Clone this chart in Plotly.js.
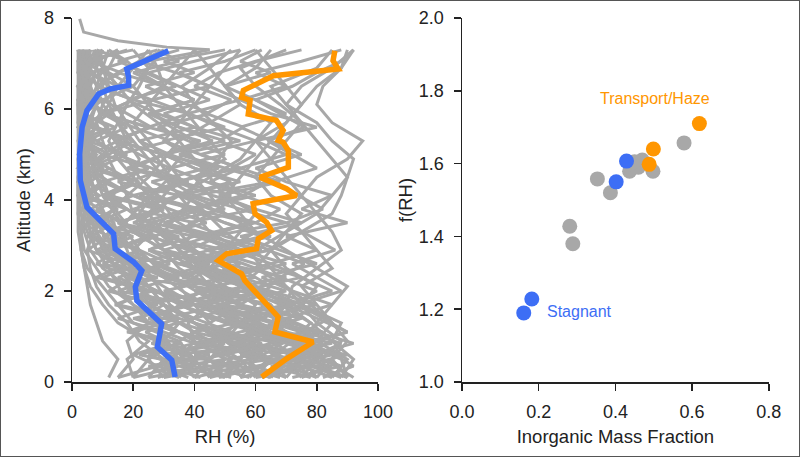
<!DOCTYPE html>
<html>
<head>
<meta charset="utf-8">
<script src="https://cdn.plot.ly/plotly-3.0.1.min.js"></script>
<style>
  body { margin: 0; background: #fff; }
  #wrap { position: relative; width: 800px; height: 457px; }
  #frame { position: absolute; left: 0; top: 0; width: 800px; height: 457px;
           box-sizing: border-box; border: 1px solid #555; pointer-events: none; }
</style>
</head>
<body>
<div id="wrap">
  <div id="plot" style="width:800px;height:457px;"></div>
  <div id="frame"></div>
</div>
<script>
// altitude levels (km) for the first group of gray profiles
let altGrid = [0.1, 0.5, 0.9, 1.3, 1.7, 2.1, 2.5, 2.9, 3.3, 3.7, 4.1, 4.5, 4.9, 5.3, 5.7, 6.1, 6.5, 6.9, 7.3];

// individual RH profiles (%), one row per flight
let grayRH = [
  [30, 25, 35, 20, 15, 10, 5, 3, 2, 2, 3, 2, 2, 3, 4, 3, 2, 3, 2],
  [45, 50, 40, 30, 20, 12, 8, 4, 3, 2, 2, 3, 4, 5, 3, 2, 3, 4, 5],
  [60, 55, 45, 35, 25, 18, 10, 6, 4, 3, 2, 2, 3, 2, 3, 5, 6, 8, 10],
  [20, 18, 25, 15, 10, 6, 4, 3, 3, 4, 6, 5, 4, 3, 2, 2, 2, 3, 4],
  [70, 65, 50, 40, 30, 20, 15, 10, 8, 6, 5, 4, 3, 3, 2, 2, 3, 4, 6],
  [35, 40, 30, 28, 25, 22, 18, 12, 8, 5, 4, 3, 3, 4, 5, 8, 10, 12, 15],
  [55, 60, 70, 50, 35, 25, 15, 8, 5, 3, 2, 2, 2, 3, 3, 4, 5, 6, 8],
  [80, 75, 65, 55, 40, 30, 20, 12, 6, 4, 3, 3, 4, 6, 8, 10, 15, 20, 25],
  [25, 30, 22, 18, 12, 8, 6, 5, 7, 10, 8, 6, 5, 4, 4, 3, 3, 3, 3],
  [50, 45, 55, 40, 30, 25, 20, 15, 12, 10, 8, 6, 5, 5, 6, 8, 6, 5, 4],
  [65, 70, 60, 55, 50, 45, 40, 35, 30, 35, 40, 30, 25, 20, 15, 10, 8, 6, 5],
  [40, 45, 50, 45, 40, 35, 45, 40, 30, 25, 30, 35, 30, 25, 20, 25, 30, 35, 40],
  [75, 80, 70, 60, 50, 55, 45, 35, 40, 30, 25, 20, 22, 18, 15, 12, 10, 8, 7],
  [30, 35, 40, 38, 45, 50, 40, 30, 25, 20, 18, 25, 30, 35, 28, 20, 15, 10, 8],
  [85, 80, 75, 65, 55, 45, 50, 40, 35, 45, 55, 50, 40, 30, 35, 40, 45, 50, 55],
  [50, 55, 60, 65, 55, 45, 35, 30, 20, 25, 35, 45, 40, 35, 45, 55, 50, 45, 40],
  [60, 65, 55, 60, 70, 60, 50, 55, 45, 40, 35, 30, 35, 40, 30, 25, 20, 25, 30],
  [20, 25, 30, 35, 30, 25, 20, 18, 15, 20, 25, 20, 15, 12, 15, 18, 22, 25, 20],
  [45, 40, 35, 45, 55, 65, 55, 50, 60, 50, 45, 40, 50, 45, 40, 35, 30, 28, 25],
  [70, 75, 80, 70, 65, 55, 45, 50, 55, 60, 50, 45, 55, 60, 65, 55, 50, 60, 65],
  [90, 85, 88, 80, 75, 70, 65, 60, 70, 80, 85, 90, 85, 80, 75, 70, 75, 85, 92],
  [80, 85, 90, 85, 80, 75, 85, 80, 75, 70, 75, 80, 90, 95, 85, 80, 82, 88, 90],
  [75, 70, 80, 85, 78, 70, 60, 65, 75, 85, 88, 90, 92, 85, 80, 70, 65, 80, 85],
  [65, 70, 75, 80, 85, 90, 80, 70, 60, 55, 50, 55, 60, 65, 70, 75, 70, 65, 60],
  [88, 92, 85, 78, 70, 72, 80, 88, 85, 80, 75, 70, 65, 60, 70, 75, 80, 88, 92],
  [55, 60, 65, 70, 75, 80, 70, 65, 70, 75, 65, 60, 65, 70, 75, 68, 60, 55, 70],
  [85, 90, 80, 70, 55, 40, 25, 15, 10, 6, 4, 3, 2, 2, 2, 3, 3, 4, 4],
  [78, 72, 85, 88, 75, 60, 45, 30, 20, 15, 12, 10, 8, 6, 5, 4, 4, 5, 6],
  [40, 35, 30, 28, 35, 45, 30, 20, 15, 12, 18, 15, 12, 10, 8, 12, 15, 10, 8],
  [90, 88, 75, 65, 70, 60, 50, 40, 30, 20, 12, 8, 6, 5, 4, 6, 8, 10, 12],
  [15, 20, 18, 25, 20, 15, 12, 8, 6, 5, 4, 4, 3, 3, 3, 2, 2, 2, 2],
  [62, 58, 50, 55, 48, 38, 28, 22, 18, 14, 10, 8, 7, 6, 5, 5, 4, 4, 3],
  [35, 30, 45, 55, 60, 50, 42, 35, 28, 22, 26, 32, 28, 22, 18, 14, 12, 10, 9],
  [58, 64, 72, 78, 68, 55, 62, 58, 50, 44, 38, 42, 48, 52, 46, 40, 36, 45, 52],
  [12, 15, 10, 8, 6, 5, 4, 3, 3, 2, 2, 2, 3, 3, 4, 4, 5, 5, 6],
  [45, 52, 48, 40, 32, 28, 24, 20, 26, 32, 28, 22, 18, 14, 10, 8, 6, 5, 5]
];

// second group of profiles, sampled on a finer altitude grid
let altGrid2 = [0.1, 0.35, 0.6, 0.85, 1.1, 1.4, 1.7, 2.0, 2.3, 2.6, 2.9, 3.2, 3.5, 3.8, 4.1, 4.4, 4.7, 5.0, 5.3, 5.6, 5.9, 6.2, 6.5, 6.8, 7.05, 7.3];
let grayRH2 = [
  [40, 55, 35, 60, 45, 30, 50, 25, 15, 30, 10, 20, 5, 15, 3, 10, 2, 8, 3, 12, 4, 2, 6, 3, 2, 4],
  [70, 60, 80, 55, 65, 45, 35, 50, 20, 30, 12, 25, 8, 18, 4, 6, 3, 12, 20, 8, 3, 5, 2, 10, 4, 3],
  [25, 45, 30, 50, 35, 20, 40, 15, 28, 10, 22, 6, 14, 3, 9, 2, 5, 3, 7, 2, 4, 3, 6, 2, 3, 2],
  [85, 75, 90, 70, 80, 60, 40, 55, 30, 45, 25, 35, 15, 28, 10, 20, 6, 12, 4, 8, 3, 6, 2, 5, 8, 15],
  [60, 80, 65, 85, 70, 50, 65, 45, 55, 35, 50, 30, 40, 20, 35, 15, 25, 10, 18, 6, 12, 4, 9, 3, 6, 10],
  [50, 35, 60, 40, 55, 75, 55, 40, 60, 35, 25, 40, 20, 30, 12, 22, 8, 18, 5, 14, 3, 10, 2, 7, 3, 20],
  [35, 25, 45, 30, 20, 35, 15, 25, 8, 18, 5, 12, 3, 9, 2, 6, 12, 4, 2, 5, 3, 8, 2, 4, 3, 6],
  [75, 85, 65, 78, 60, 70, 50, 62, 45, 55, 38, 48, 30, 42, 25, 38, 20, 30, 15, 25, 10, 20, 8, 15, 25, 45],
  [90, 80, 88, 72, 82, 66, 76, 58, 70, 50, 62, 45, 58, 40, 52, 35, 48, 30, 42, 25, 38, 20, 30, 15, 22, 35],
  [30, 50, 40, 60, 50, 35, 25, 45, 30, 20, 40, 25, 15, 30, 20, 10, 25, 15, 8, 18, 10, 5, 12, 6, 3, 2],
  [65, 50, 75, 55, 40, 60, 45, 30, 50, 35, 60, 45, 70, 55, 40, 65, 50, 35, 55, 40, 30, 45, 35, 25, 40, 55],
  [55, 70, 60, 45, 65, 50, 70, 55, 75, 60, 45, 65, 50, 40, 60, 45, 55, 70, 60, 80, 65, 55, 70, 60, 75, 88],
  [80, 70, 85, 75, 90, 80, 70, 85, 75, 65, 80, 70, 90, 75, 85, 70, 60, 75, 65, 55, 70, 60, 50, 65, 55, 62],
  [45, 60, 50, 65, 75, 60, 80, 65, 50, 70, 55, 40, 60, 45, 35, 55, 40, 30, 50, 35, 25, 40, 30, 20, 35, 28],
  [20, 35, 25, 40, 30, 15, 28, 12, 20, 8, 15, 5, 10, 3, 7, 2, 5, 2, 4, 2, 3, 2, 3, 2, 2, 3],
  [72, 88, 78, 92, 80, 70, 85, 72, 62, 80, 68, 55, 75, 60, 48, 68, 55, 42, 60, 48, 38, 55, 45, 35, 50, 60],
  [38, 28, 50, 40, 62, 48, 35, 52, 40, 28, 45, 32, 22, 38, 28, 18, 32, 22, 14, 26, 18, 10, 20, 12, 8, 15],
  [88, 78, 70, 82, 68, 58, 72, 60, 48, 65, 52, 42, 58, 46, 36, 52, 40, 30, 46, 35, 26, 40, 30, 22, 18, 12],
  [15, 28, 20, 32, 24, 40, 30, 18, 35, 22, 12, 28, 16, 8, 20, 12, 6, 15, 8, 4, 10, 5, 3, 6, 3, 4],
  [58, 45, 68, 52, 78, 62, 48, 70, 55, 42, 65, 50, 38, 60, 46, 34, 55, 42, 30, 50, 38, 26, 45, 34, 22, 30],
  [62, 75, 55, 68, 48, 60, 42, 55, 36, 50, 30, 45, 26, 40, 22, 35, 18, 30, 14, 25, 10, 20, 8, 16, 6, 10],
  [78, 65, 82, 70, 58, 75, 62, 50, 68, 56, 44, 62, 50, 38, 56, 44, 32, 50, 38, 28, 45, 34, 24, 40, 30, 50],
  [28, 40, 22, 36, 18, 30, 14, 26, 10, 22, 8, 18, 6, 14, 5, 12, 4, 10, 3, 8, 3, 6, 2, 5, 2, 3],
  [92, 86, 80, 88, 76, 84, 72, 80, 68, 76, 64, 72, 60, 68, 56, 64, 52, 60, 48, 56, 44, 52, 40, 48, 60, 75],
  [48, 62, 72, 58, 70, 55, 42, 62, 48, 36, 56, 42, 30, 50, 38, 26, 44, 32, 22, 40, 28, 18, 34, 24, 15, 28],
  [68, 55, 48, 62, 52, 40, 56, 44, 32, 50, 38, 26, 44, 32, 20, 38, 26, 15, 32, 20, 10, 26, 15, 6, 18, 8],
  [82, 92, 86, 78, 90, 82, 74, 88, 80, 72, 86, 78, 70, 82, 74, 66, 80, 72, 64, 76, 68, 60, 72, 80, 88, 92],
  [42, 30, 38, 26, 34, 22, 30, 18, 26, 14, 22, 10, 18, 6, 14, 4, 10, 3, 7, 2, 5, 2, 4, 2, 3, 2],
  [64, 72, 84, 74, 62, 52, 44, 36, 30, 24, 20, 16, 12, 10, 8, 6, 5, 4, 3, 3, 2, 2, 3, 4, 5, 8],
  [52, 40, 30, 45, 35, 25, 38, 28, 18, 32, 22, 14, 26, 18, 10, 20, 12, 6, 15, 8, 4, 10, 5, 3, 6, 18]
];

// one profile that goes above the rest
let highRH = [45, 31, 15, 3.8, 2.5];
let highAlt = [7.3, 7.36, 7.5, 7.69, 7.98];

// stagnant mean profile
let blueRH = [33.7, 32.6, 27.9, 29.3, 21.2, 20.7, 22.8, 20.1, 14.1, 13.6, 9.2, 4.9, 2.7, 2.5, 3.3, 4.9, 8.7, 12.5, 18.5, 18.5, 17.9, 23.4, 31.5];
let blueAlt = [0.11, 0.48, 0.77, 1.28, 1.79, 2.09, 2.45, 2.64, 2.93, 3.26, 3.55, 3.84, 4.43, 5.01, 5.6, 5.97, 6.33, 6.44, 6.52, 6.7, 6.88, 7.03, 7.28];

// transport/haze mean profile
let orangeRH = [62, 70.1, 78.8, 66.3, 67.4, 63.6, 56.5, 55.4, 47.8, 50.5, 60.3, 60.9, 65.2, 63.6, 59.8, 59.2, 73.4, 70.1, 65.8, 61.4, 70.7, 70.7, 69, 67.4, 69, 66.8, 57.6, 58.2, 55.4, 56, 65.8, 87, 85.3, 85.9];
let orangeAlt = [0.11, 0.51, 0.88, 1.1, 1.43, 1.72, 2.23, 2.38, 2.67, 2.82, 2.93, 3.15, 3.33, 3.51, 3.7, 3.92, 4.1, 4.25, 4.36, 4.5, 4.72, 5.09, 5.27, 5.31, 5.53, 5.75, 5.89, 6.19, 6.26, 6.41, 6.73, 6.88, 7.06, 7.28];

// f(RH) vs inorganic mass fraction
let grayX = [0.281, 0.289, 0.353, 0.387, 0.437, 0.44, 0.46, 0.47, 0.45, 0.498, 0.579];
let grayY = [1.428, 1.38, 1.558, 1.52, 1.579, 1.6, 1.59, 1.61, 1.605, 1.579, 1.657];
let blueX = [0.161, 0.182, 0.402, 0.429];
let blueY = [1.19, 1.228, 1.55, 1.607];
let orangeX = [0.488, 0.499, 0.619];
let orangeY = [1.598, 1.64, 1.71];

let GRAY = 'rgb(168,168,168)';
let BLUE = 'rgb(61,110,245)';
let ORANGE = 'rgb(255,150,0)';

let data = [];
function grayLine(rh, alt) {
  data.push({x: rh, y: alt, mode: 'lines', type: 'scatter',
    line: {color: GRAY, width: 3}, xaxis: 'x', yaxis: 'y'});
}
grayRH.forEach(function (rh) { grayLine(rh, altGrid); });
grayRH2.forEach(function (rh) { grayLine(rh, altGrid2); });
grayLine(highRH, highAlt);

data.push({x: blueRH, y: blueAlt, mode: 'lines', type: 'scatter',
  line: {color: BLUE, width: 5.5}, xaxis: 'x', yaxis: 'y'});
data.push({x: orangeRH, y: orangeAlt, mode: 'lines', type: 'scatter',
  line: {color: ORANGE, width: 5.5}, xaxis: 'x', yaxis: 'y'});

data.push({x: grayX, y: grayY, mode: 'markers', type: 'scatter',
  marker: {color: GRAY, size: 15}, xaxis: 'x2', yaxis: 'y2'});
data.push({x: blueX, y: blueY, mode: 'markers', type: 'scatter',
  marker: {color: BLUE, size: 15}, xaxis: 'x2', yaxis: 'y2'});
data.push({x: orangeX, y: orangeY, mode: 'markers', type: 'scatter',
  marker: {color: ORANGE, size: 15}, xaxis: 'x2', yaxis: 'y2'});

let axisStyle = {
  showline: true, linecolor: '#222', linewidth: 1.5,
  ticks: 'outside', ticklen: 7, tickwidth: 1.5, tickcolor: '#222',
  showgrid: false, zeroline: false, ticklabelstandoff: 6,
  tickfont: {size: 18, color: '#222'}
};
function ax(extra) { return Object.assign({}, axisStyle, extra); }

let layout = {
  width: 800, height: 457,
  margin: {l: 0, r: 0, t: 0, b: 0},
  paper_bgcolor: '#fff', plot_bgcolor: '#fff',
  font: {family: 'Liberation Sans, Arial, sans-serif', color: '#222'},
  showlegend: false, hovermode: false,
  xaxis: ax({domain: [0.09, 0.4725], range: [0, 100], dtick: 20, anchor: 'y',
    title: {text: 'RH (%)', font: {size: 18.5}, standoff: 9}}),
  yaxis: ax({domain: [0.164, 0.9606], range: [0, 8], dtick: 2, anchor: 'x',
    title: {text: 'Altitude (km)', font: {size: 18.5}, standoff: 8}}),
  xaxis2: ax({domain: [0.5775, 0.961], range: [0, 0.8], dtick: 0.2, tickformat: '.1f', anchor: 'y2',
    title: {text: 'Inorganic Mass Fraction', font: {size: 18.5}, standoff: 9}}),
  yaxis2: ax({domain: [0.164, 0.9606], range: [1, 2], dtick: 0.2, tickformat: '.1f', anchor: 'x2',
    title: {text: 'f(RH)', font: {size: 18.5}, standoff: 1}}),
  annotations: [
    {x: 0.503, y: 1.78, xref: 'x2', yref: 'y2', text: 'Transport/Haze', showarrow: false,
      font: {size: 16, color: ORANGE}},
    {x: 0.307, y: 1.195, xref: 'x2', yref: 'y2', text: 'Stagnant', showarrow: false,
      font: {size: 16, color: BLUE}}
  ]
};

Plotly.newPlot('plot', data, layout, {staticPlot: true});
</script>
</body>
</html>
